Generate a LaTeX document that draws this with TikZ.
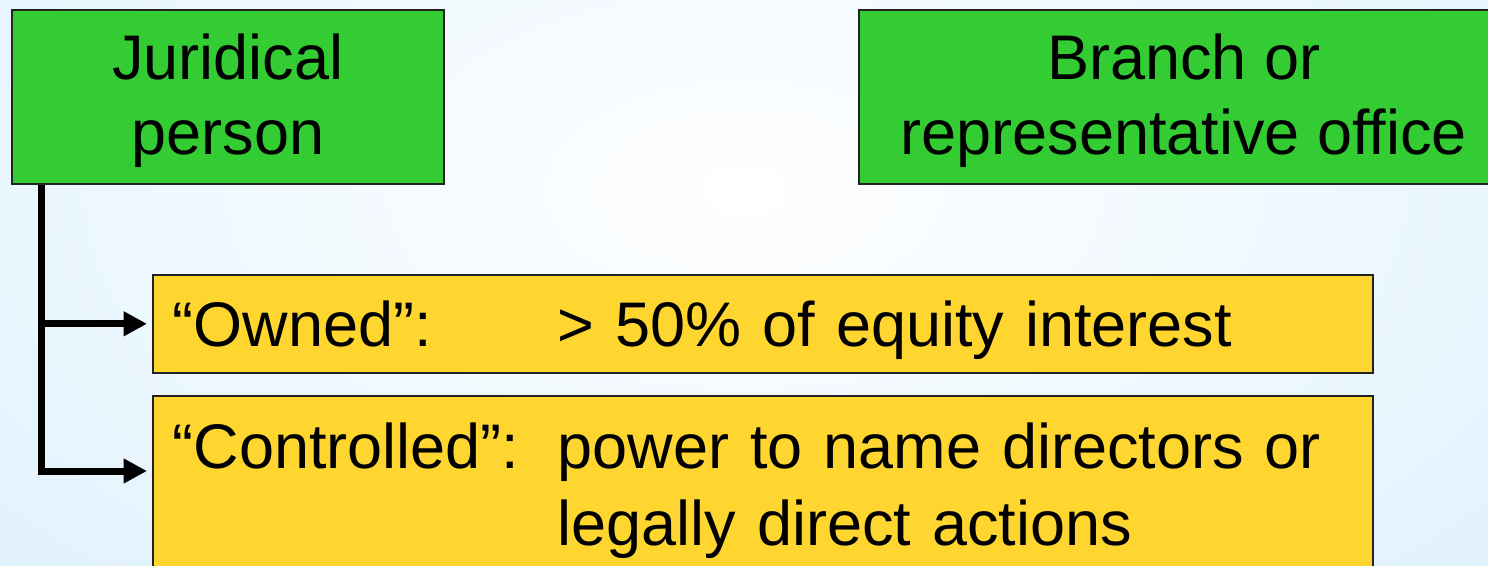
\documentclass[tikz,border=0pt]{standalone}
\usepackage{fontspec}
\setmainfont{Liberation Sans}
\usetikzlibrary{positioning,arrows.meta}

\definecolor{boxgreen}{RGB}{51,204,51}
\definecolor{boxyellow}{RGB}{255,214,48}
\definecolor{bgblue}{RGB}{210,236,253}
\definecolor{edgegray}{RGB}{35,35,35}

\newcommand{\headstrut}{\rule{0pt}{27pt}}

\tikzset{
  box/.style={draw=edgegray, line width=0.8pt, rectangle, inner sep=0pt,
    font=\fontsize{31.5}{37.5}\selectfont},
  greenbox/.style={box, fill=boxgreen, align=center, minimum width=216pt, minimum height=87pt},
  yellowbox/.style={box, fill=boxyellow, align=left, inner xsep=10pt, text width=590pt,
    execute at begin node={\noindent\rule{0pt}{29.7pt}}},
  link/.style={line width=3.5pt, -{Triangle[length=11.7pt,width=11.7pt]}, shorten >=2.5pt},
}

\begin{document}
\begin{tikzpicture}[x=0.5pt,y=-0.5pt]
  \useasboundingbox (0,0) rectangle (1488,566);
  \clip (0,0) rectangle (1488,566);
  % background
  \fill[bgblue] (0,0) rectangle (1488,566);
  \shade[inner color=white, outer color=bgblue] (744,190) ellipse [x radius=760pt, y radius=420pt];

  \node[greenbox, anchor=north west] (jur) at (11,9) {\headstrut Juridical\\person};
  \node[greenbox, anchor=north west, minimum width=325pt] (branch) at (858,9) {\headstrut Branch or\\representative office};

  \node[yellowbox, anchor=north west, minimum height=49pt] (own) at (152,274)
    {\makebox[192.5pt][l]{“Owned”:}> 50\% of equity interest};
  \node[yellowbox, anchor=north west, inner ysep=6.8pt, font=\fontsize{31.5}{38.5}\selectfont] (ctrl) at (152,395)
    {\makebox[192.5pt][l]{“Controlled”:}power to name directors or\\
     \hspace*{192.5pt}legally direct actions};

  \coordinate (trunk) at ([xshift=15.25pt]jur.south west);
  \coordinate (ctrlin) at ([yshift=-38pt]ctrl.north west);

  \draw[link] (trunk) |- (ctrlin);
  \draw[link] (trunk |- own.west) -- (own.west);
\end{tikzpicture}
\end{document}
